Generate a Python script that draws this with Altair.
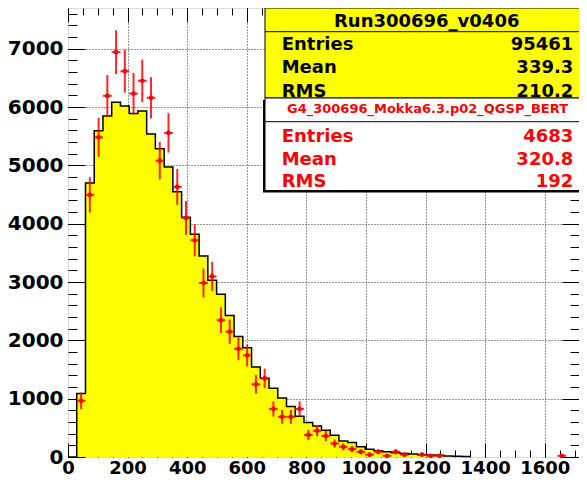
import altair as alt
import pandas as pd

# ---------------- data ----------------
bin_edges = [0, 29.3, 58.7, 88, 117.3, 146.7, 176, 205.3, 234.7, 264, 293.3, 322.7,
             352, 381.3, 410.7, 440, 469.3, 498.7, 528, 557.3, 586.7, 616, 645.3,
             674.7, 704, 733.3, 762.7, 792, 821.3, 850.7, 880, 909.3, 938.7, 968,
             997.3, 1026.7, 1056, 1085.3, 1114.7, 1144, 1173.3, 1202.7, 1232, 1261.3,
             1290.7, 1320, 1349.3]
data_counts = [0, 1090, 4700, 5595, 5850, 6085, 6020, 5890, 5935, 5540, 5285, 4975,
               4550, 4110, 3820, 3445, 3030, 2790, 2425, 2065, 1875, 1545, 1350,
               1180, 1010, 868, 700, 590, 530, 457, 372, 276, 248, 175, 135, 107,
               90, 73, 62, 51, 39, 34, 28, 17, 14, 10, 0]

mc_x = [44.0, 73.3, 102.7, 132.0, 161.3, 190.7, 220.0, 249.3, 278.7, 308.0, 337.3,
        366.7, 396.0, 425.3, 454.7, 484.0, 513.3, 542.7, 572.0, 601.3, 630.7, 660.0,
        689.3, 718.7, 748.0, 777.3, 806.7, 836.0, 865.3, 894.7, 924.0, 953.3, 982.7,
        1012.0, 1041.3, 1070.7, 1100.0, 1129.3, 1188.0, 1217.3, 1246.7, 1657.3]
mc_y = [964, 4495, 5482, 6193, 6943, 6616, 6232, 6452, 6159, 5082, 5558, 4631, 4100,
        3717, 2984, 3096, 2346, 2149, 1856, 1743, 1247, 1348, 824, 689, 689, 824,
        378, 450, 360, 231, 175, 135, 88, 40, 90, 20, 90, 40, 40, 20, 20, 20]
mc_err = [140, 303, 334, 355, 376, 367, 356, 363, 354, 322, 337, 307, 289, 275, 247,
          251, 219, 209, 194, 188, 159, 166, 130, 119, 119, 130, 88, 96, 86, 69, 60,
          52, 42, 29, 43, 20, 43, 29, 29, 20, 20, 20]
mc_half_width = 14.67

x_tick_labels = [0, 200, 400, 600, 800, 1000, 1200, 1400, 1600]
x_grid_values = [200, 400, 600, 800, 1000, 1200, 1400, 1600]
x_minor_values = [v * 50 for v in range(0, 35)]
y_tick_labels = [0, 1000, 2000, 3000, 4000, 5000, 6000, 7000]
y_grid_values = [1000, 2000, 3000, 4000, 5000, 6000, 7000]
y_minor_values = [v * 200 for v in range(0, 39)]

stats1_title = "Run300696_v0406"
stats1_labels = ["Entries", "Mean", "RMS"]
stats1_values = ["95461", "339.3", "210.2"]
stats2_title = "G4_300696_Mokka6.3.p02_QGSP_BERT"
stats2_labels = ["Entries", "Mean", "RMS"]
stats2_values = ["4683", "320.8", "192"]

# ---------------- chart ----------------
W, H = 511, 449
FONT = "DejaVu Sans"
xs = alt.Scale(domain=[0, 1715], zero=False, nice=False)
ys = alt.Scale(domain=[0, 7700], zero=False, nice=False)

hist = pd.DataFrame({"edge": bin_edges, "count": data_counts})
mc = pd.DataFrame({"x": mc_x, "y": mc_y, "err": mc_err})
mc["ylo"] = mc["y"] - mc["err"]
mc["yhi"] = mc["y"] + mc["err"]
mc["xlo"] = mc["x"] - mc_half_width
mc["xhi"] = mc["x"] + mc_half_width

dummy = pd.DataFrame({"x": [0], "y": [0]})


def axis_layer(xaxis, yaxis):
    return alt.Chart(dummy).mark_point(opacity=0).encode(
        x=alt.X("x:Q", scale=xs, axis=xaxis),
        y=alt.Y("y:Q", scale=ys, axis=yaxis),
    )


def tick_axis(orient, values, size, offset):
    return alt.Axis(orient=orient, values=values, tickSize=size, offset=offset,
                    labels=False, domain=False, grid=False, ticks=True,
                    tickColor="black", tickWidth=1, title=None)


layers = []
# grid
layers.append(axis_layer(
    alt.Axis(orient="bottom", values=x_grid_values, grid=True, gridDash=[1, 2],
             gridColor="#333333", gridWidth=1, labels=False, ticks=False,
             domain=False, title=None),
    alt.Axis(orient="left", values=y_grid_values, grid=True, gridDash=[1, 2],
             gridColor="#333333", gridWidth=1, labels=False, ticks=False,
             domain=False, title=None)))
# inside ticks: bottom/left
layers.append(axis_layer(tick_axis("top", x_tick_labels, 14, -H),
                         tick_axis("right", y_tick_labels, 17, -W)))
layers.append(axis_layer(tick_axis("top", x_minor_values, 7, -H),
                         tick_axis("right", y_minor_values, 9, -W)))
# inside ticks: top/right
layers.append(axis_layer(tick_axis("bottom", x_tick_labels, 14, -H),
                         tick_axis("left", y_tick_labels, 17, -W)))
layers.append(axis_layer(tick_axis("bottom", x_minor_values, 7, -H),
                         tick_axis("left", y_minor_values, 9, -W)))
# labels
layers.append(axis_layer(
    alt.Axis(orient="bottom", values=x_tick_labels, format="d", ticks=False,
             domain=False, grid=False, labelFont=FONT, labelFontWeight="bold",
             labelFontSize=18, labelColor="black", labelPadding=2,
             labelFlush=False, labelOverlap=False, title=None),
    alt.Axis(orient="left", values=y_tick_labels, format="d", ticks=False,
             domain=False, grid=False, labelFont=FONT, labelFontWeight="bold",
             labelFontSize=20, labelColor="black", labelPadding=5,
             labelFlush=False, labelOverlap=False, title=None)))

# histogram
layers.append(alt.Chart(hist).mark_area(interpolate="step-after", color="#ffff00").encode(
    x=alt.X("edge:Q", scale=xs, axis=None),
    y=alt.Y("count:Q", scale=ys, axis=None)))
layers.append(alt.Chart(hist).mark_line(interpolate="step-after", color="black",
                                        strokeWidth=1.5).encode(
    x=alt.X("edge:Q", scale=xs, axis=None),
    y=alt.Y("count:Q", scale=ys, axis=None)))

# MC points with error bars
layers.append(alt.Chart(mc).mark_rule(color="#ff0000", strokeWidth=2, opacity=0.85).encode(
    x=alt.X("x:Q", scale=xs, axis=None),
    y=alt.Y("ylo:Q", scale=ys, axis=None),
    y2="yhi:Q"))
layers.append(alt.Chart(mc).mark_rule(color="#ff0000", strokeWidth=2, opacity=0.85).encode(
    x=alt.X("xlo:Q", scale=xs, axis=None),
    x2="xhi:Q",
    y=alt.Y("y:Q", scale=ys, axis=None)))
layers.append(alt.Chart(mc).mark_point(filled=True, shape="circle", size=22,
                                       color="#ff0000", opacity=1).encode(
    x=alt.X("x:Q", scale=xs, axis=None),
    y=alt.Y("y:Q", scale=ys, axis=None)))

# stats boxes
one = pd.DataFrame({"a": [0]})
BX0, BX1 = 197, 530
layers.append(alt.Chart(one).mark_rect(fill="#ffff00", stroke="black", strokeWidth=1).encode(
    x=alt.value(BX0), x2=alt.value(BX1), y=alt.value(0), y2=alt.value(90)))
layers.append(alt.Chart(one).mark_rule(color="black", strokeWidth=1).encode(
    x=alt.value(BX0), x2=alt.value(BX1), y=alt.value(23.7)))
layers.append(alt.Chart(one).mark_rect(fill="black").encode(
    x=alt.value(BX0 - 2), x2=alt.value(BX1), y=alt.value(92), y2=alt.value(184.5)))
layers.append(alt.Chart(one).mark_rect(fill="white", stroke="black", strokeWidth=1).encode(
    x=alt.value(BX0), x2=alt.value(BX1), y=alt.value(90), y2=alt.value(182.5)))
layers.append(alt.Chart(one).mark_rule(color="black", strokeWidth=1).encode(
    x=alt.value(BX0), x2=alt.value(BX1), y=alt.value(113.7)))


def text_layer(txt, x, y, align, color, size=18):
    return alt.Chart(pd.DataFrame({"t": [txt]})).mark_text(
        align=align, baseline="alphabetic", font=FONT, fontWeight="bold",
        fontSize=size, color=color).encode(
        x=alt.value(x), y=alt.value(y), text="t:N")


layers.append(text_layer(stats1_title, 358.7, 18.7, "center", "black"))
for lab, val, yy in zip(stats1_labels, stats1_values, [42, 65.3, 88.5]):
    layers.append(text_layer(lab, 213.7, yy, "left", "black"))
    layers.append(text_layer(val, 505.3, yy, "right", "black"))
layers.append(text_layer(stats2_title, 359.5, 105.3, "center", "#ff0000", size=13))
for lab, val, yy in zip(stats2_labels, stats2_values, [133.7, 157, 178.7]):
    layers.append(text_layer(lab, 213.7, yy, "left", "#ff0000"))
    layers.append(text_layer(val, 505.3, yy, "right", "#ff0000"))

chart = alt.layer(*layers).resolve_axis(x="independent", y="independent").properties(
    width=W, height=H,
    autosize=alt.AutoSizeParams(type="none"),
    padding={"left": 60, "top": 0, "right": 0, "bottom": 21},
).configure_view(stroke="black", strokeWidth=2).configure(background="white")

chart.save("out.html", embed_options={"renderer": "svg", "actions": False})
